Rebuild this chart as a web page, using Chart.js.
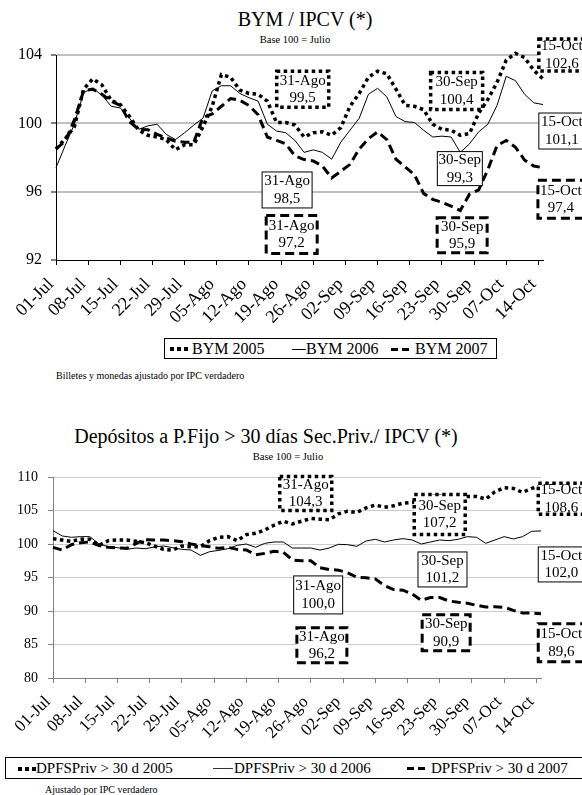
<!DOCTYPE html>
<html>
<head>
<meta charset="utf-8">
<script src="https://cdn.jsdelivr.net/npm/chart.js@4.4.1/dist/chart.umd.min.js"></script>
<style>
  html, body { margin: 0; padding: 0; background: #fff; }
  body { width: 582px; height: 795px; position: relative; overflow: hidden;
         font-family: "Liberation Serif", "Times New Roman", serif; color: #000; }
  .txt { position: absolute; white-space: nowrap; line-height: 1; }
  .mid { transform: translateX(-50%); }
  .cv { position: absolute; left: 0; }
  .legend { position: absolute; border: 1px solid #000; box-sizing: border-box; background: #fff; }
  .legend span { position: absolute; white-space: nowrap; line-height: 1; }
  .s05 { height: 4px; background: repeating-linear-gradient(90deg, #000 0 4px, transparent 4px 7px); }
  .s06 { height: 1px; background: #000; }
  .s07 { height: 3px; background: repeating-linear-gradient(90deg, #000 0 7px, transparent 7px 11px); }
</style>
</head>
<body>

<div class="txt mid" style="left:305px;top:9px;font-size:20px;">BYM / IPCV (*)</div>
<div class="txt mid" style="left:295px;top:35px;font-size:10.5px;">Base 100 = Julio</div>
<canvas id="bymChart" class="cv" style="top:0;" width="582" height="335"></canvas>
<div class="legend" style="left:164px;top:338px;width:333px;height:21px;">
  <span class="s05" style="left:5px;top:8px;width:21px;"></span>
  <span style="left:27px;top:2px;font-size:16px;">BYM 2005</span>
  <span class="s06" style="left:127px;top:10px;width:14px;"></span>
  <span style="left:141px;top:2px;font-size:16px;">BYM 2006</span>
  <span class="s07" style="left:226px;top:9px;width:18px;"></span>
  <span style="left:250px;top:2px;font-size:16px;">BYM 2007</span>
</div>
<div class="txt" style="left:56px;top:371px;font-size:10px;">Billetes y monedas ajustado por IPC verdadero</div>

<div class="txt mid" style="left:266px;top:426px;font-size:20px;">Depósitos a P.Fijo &gt; 30 días Sec.Priv./ IPCV (*)</div>
<div class="txt mid" style="left:288px;top:452px;font-size:10.5px;">Base 100 = Julio</div>
<canvas id="dpfChart" class="cv" style="top:400px;" width="582" height="357"></canvas>
<div class="legend" style="left:5px;top:757px;width:600px;height:22px;">
  <span class="s05" style="left:12px;top:9px;width:18px;"></span>
  <span style="left:30px;top:3px;font-size:15px;">DPFSPriv &gt; 30 d 2005</span>
  <span class="s06" style="left:207px;top:10px;width:20px;background:#333;"></span>
  <span style="left:228px;top:3px;font-size:15px;">DPFSPriv &gt; 30 d 2006</span>
  <span class="s07" style="left:401px;top:9px;width:20px;"></span>
  <span style="left:425px;top:3px;font-size:15px;">DPFSPriv &gt; 30 d 2007</span>
</div>
<div class="txt" style="left:45px;top:785px;font-size:10px;">Ajustado por IPC verdadero</div>

<script>
// days counted from 01-Jul (0) to 15-Oct (106)
const days = [0, 2, 4, 6, 8, 10, 12, 14, 16, 18, 20, 22, 24, 26, 28, 30, 32, 34, 36, 38,
  40, 42, 44, 46, 48, 50, 52, 54, 56, 58, 60, 62, 64, 66, 68, 70, 72, 74, 76, 78,
  80, 82, 84, 86, 88, 90, 92, 94, 96, 98, 100, 102, 104, 106];

const tickDays = [0, 7, 14, 21, 28, 35, 42, 49, 56, 63, 70, 77, 84, 91, 98, 105];
const tickLabels = ["01-Jul", "08-Jul", "15-Jul", "22-Jul", "29-Jul", "05-Ago", "12-Ago", "19-Ago",
  "26-Ago", "02-Sep", "09-Sep", "16-Sep", "23-Sep", "30-Sep", "07-Oct", "14-Oct"];

const bym2005 = [98.5, 99.1, 99.8, 102.0, 102.6, 102.25, 101.35, 101.1, 100.4, 99.6,
  99.3, 99.2, 99.05, 98.45, 98.75, 98.75, 99.8, 101.0, 102.85, 102.7,
  101.95, 101.75, 101.7, 101.3, 100.05, 100.05, 99.9, 99.2, 99.45, 99.5,
  99.3, 99.75, 101.0, 101.75, 102.7, 103.05, 102.9, 102.0, 101.05, 101.0,
  100.8, 99.95, 99.65, 99.6, 99.3, 99.4, 100.6, 101.4, 102.4, 103.7,
  104.1, 103.85, 103.1, 102.6];
const bym2006 = [97.4, 98.7, 99.95, 101.8, 102.05, 101.65, 101.0, 100.9, 100.3, 99.65,
  99.85, 99.95, 99.35, 99.05, 99.45, 99.9, 100.3, 101.9, 102.2, 102.2,
  101.75, 101.5, 101.3, 99.95, 99.55, 99.45, 99.0, 98.3, 98.45, 98.3,
  97.9, 98.9, 99.6, 100.3, 101.7, 102.05, 101.55, 100.4, 100.1, 100.05,
  99.6, 99.2, 99.25, 99.2, 98.3, 98.8, 99.5, 99.95, 101.05, 102.75,
  102.5, 101.7, 101.2, 101.1];
const bym2007 = [98.5, 98.95, 100.2, 101.9, 102.0, 101.7, 101.3, 101.05, 100.1, 99.65,
  99.63, 99.35, 99.15, 98.95, 98.9, 98.9, 100.35, 100.55, 101.0, 101.45,
  101.35, 101.05, 100.5, 99.2, 99.0, 98.8, 98.1, 97.88, 97.8, 97.5,
  96.8, 97.2, 97.6, 98.5, 99.1, 99.5, 99.05, 97.9, 97.45, 97.0,
  95.9, 95.55, 95.38, 95.15, 94.9, 95.85, 96.1, 97.3, 98.7, 99.0,
  98.6, 97.85, 97.5, 97.4];

const dpf2005 = [100.8, 100.6, 100.4, 100.7, 100.7, 99.8, 100.5, 100.6, 100.6, 100.4,
  100.2, 99.7, 99.2, 99.1, 99.7, 99.6, 99.6, 100.5, 101.0, 101.1,
  100.5, 101.4, 101.6, 102.1, 102.8, 103.4, 103.0, 103.4, 103.8, 103.7,
  103.6, 104.5, 104.9, 104.7, 105.4, 105.8, 105.5, 105.7, 106.1, 106.2,
  106.4, 107.1, 107.2, 107.0, 106.9, 107.1, 107.1, 106.7, 107.8, 108.4,
  108.3, 107.7, 108.3, 108.7];
const dpf2006 = [102.0, 101.2, 101.0, 101.1, 101.1, 100.0, 99.6, 99.45, 99.2, 99.4,
  99.3, 99.55, 99.7, 99.45, 99.2, 99.1, 98.3, 98.85, 99.05, 99.3,
  99.8, 100.0, 99.5, 100.1, 100.3, 100.3, 99.4, 99.4, 99.4, 99.1,
  99.4, 99.95, 99.9, 99.65, 100.45, 100.7, 100.3, 100.6, 100.8, 100.6,
  100.0, 100.3, 100.6, 100.5, 100.7, 101.1, 101.0, 100.1, 100.6, 101.1,
  100.75, 101.1, 101.9, 101.95];
const dpf2007 = [99.5, 99.1, 99.9, 100.2, 100.3, 99.75, 99.5, 99.4, 99.35, 100.05,
  100.65, 100.6, 100.6, 100.5, 100.35, 100.0, 99.75, 99.6, 99.35, 99.5,
  99.2, 99.1, 98.4, 98.6, 98.9, 98.8, 97.6, 97.5, 97.5, 96.45,
  96.2, 96.1, 95.7, 95.05, 94.95, 94.8, 93.8, 93.2, 93.1, 92.55,
  91.6, 92.0, 92.0, 91.5, 91.3, 91.15, 90.85, 90.6, 90.65, 90.55,
  90.1, 89.7, 89.7, 89.6];

// boxed notes: dates and values printed in the boxes
const noteDates = ["31-Ago", "30-Sep", "15-Oct"];
const bymNotes2005 = [99.5, 100.4, 102.6];
const bymNotes2006 = [98.5, 99.3, 101.1];
const bymNotes2007 = [97.2, 95.9, 97.4];
const dpfNotes2005 = [104.3, 107.2, 108.6];
const dpfNotes2006 = [100.0, 101.2, 102.0];
const dpfNotes2007 = [96.2, 90.9, 89.6];

// where each box sits (scale units) and its size in px
const bymBoxPos = [
  [{ x: 53.7, y: 102.0, w: 52, h: 36 }, { x: 87.2, y: 101.9, w: 52, h: 37 }, { x: 110.1, y: 104.0, w: 46, h: 32 }],
  [{ x: 50.3, y: 96.1, w: 50, h: 36 }, { x: 87.9, y: 97.35, w: 45, h: 34 }, { x: 110.1, y: 99.55, w: 46, h: 36 }],
  [{ x: 51.3, y: 93.5, w: 51, h: 38 }, { x: 88.4, y: 93.45, w: 50, h: 35 }, { x: 109.9, y: 95.55, w: 46, h: 38 }]
];
const dpfBoxPos = [
  [{ x: 54.9, y: 107.55, w: 52, h: 34 }, { x: 84.0, y: 104.4, w: 51, h: 40 }, { x: 110.4, y: 106.75, w: 46, h: 31 }],
  [{ x: 57.6, y: 92.4, w: 49, h: 38 }, { x: 84.6, y: 96.2, w: 49, h: 35 }, { x: 110.4, y: 96.95, w: 46, h: 35 }],
  [{ x: 58.4, y: 84.9, w: 50, h: 35 }, { x: 85.4, y: 86.75, w: 48, h: 36 }, { x: 110.4, y: 85.25, w: 46, h: 38 }]
];

const serif = "'Liberation Serif', 'Times New Roman', serif";
const lineStyles = [
  { borderWidth: 3.5, borderDash: [3.5, 3.5] },
  { borderWidth: 1, borderDash: [] },
  { borderWidth: 3, borderDash: [9, 5] }
];

const fmt = (v) => v.toFixed(1).replace(".", ",");

const boxLabels = {
  id: "boxLabels",
  afterDatasetsDraw(chart, args, opts) {
    const ctx = chart.ctx;
    const xs = chart.scales.x;
    const ys = chart.scales.y;
    ctx.save();
    opts.series.forEach((notes, s) => {
      notes.forEach((val, i) => {
        const p = opts.pos[s][i];
        const cx = xs.getPixelForValue(p.x);
        const cy = ys.getPixelForValue(p.y);
        const left = cx - p.w / 2;
        const top = cy - p.h / 2;
        ctx.fillStyle = "#fff";
        ctx.fillRect(left, top, p.w, p.h);
        ctx.strokeStyle = "#000";
        ctx.lineWidth = lineStyles[s].borderWidth;
        ctx.setLineDash(lineStyles[s].borderDash);
        ctx.strokeRect(left, top, p.w, p.h);
        ctx.setLineDash([]);
        ctx.fillStyle = "#000";
        ctx.font = "15px " + serif;
        ctx.textAlign = "center";
        ctx.textBaseline = "middle";
        ctx.fillText(noteDates[i], cx, cy - 8.5);
        ctx.fillText(fmt(val), cx, cy + 9);
      });
    });
    ctx.restore();
  }
};

function makeChart(id, series, o) {
  const canvas = document.getElementById(id);
  const ctx = canvas.getContext("2d");
  return new Chart(ctx, {
    type: "line",
    data: {
      datasets: series.map((vals, i) => ({
        data: days.map((d, k) => ({ x: d, y: vals[k] })),
        borderColor: "#000",
        borderWidth: lineStyles[i].borderWidth,
        borderDash: lineStyles[i].borderDash,
        borderCapStyle: "butt",
        borderJoinStyle: "miter",
        pointRadius: 0,
        tension: 0,
        fill: false,
        clip: 8
      }))
    },
    options: {
      responsive: false,
      animation: false,
      events: [],
      layout: { autoPadding: false, padding: { top: o.top, right: o.right, left: 0, bottom: 0 } },
      plugins: {
        legend: { display: false },
        tooltip: { enabled: false },
        boxLabels: { series: o.notes, pos: o.pos }
      },
      scales: {
        x: {
          type: "linear",
          min: 0,
          max: 106,
          afterBuildTicks: (s) => { s.ticks = tickDays.map((v) => ({ value: v })); },
          afterFit: (s) => { s.height = o.xHeight; },
          ticks: {
            autoSkip: false,
            minRotation: 45,
            maxRotation: 45,
            padding: o.xPad,
            labelOffset: -5,
            color: "#000",
            font: { family: serif, size: o.xFont },
            callback: (v, i) => tickLabels[i]
          },
          grid: { drawOnChartArea: false, drawTicks: true, tickLength: 5, color: o.axisColor },
          border: { color: o.axisColor, width: 1 }
        },
        y: {
          min: o.yMin,
          max: o.yMax,
          afterBuildTicks: (s) => { s.ticks = o.yTicks.map((v) => ({ value: v })); },
          afterFit: (s) => { s.width = o.yWidth; },
          ticks: {
            padding: o.yPad,
            color: "#000",
            font: { family: serif, size: o.yFont }
          },
          grid: {
            color: (c) => (c.tick && c.tick.value === o.yMin ? "rgba(0,0,0,0)" : o.gridColor),
            lineWidth: o.gridWidth,
            tickColor: o.axisColor,
            tickLength: 5,
            tickWidth: 1
          },
          border: { color: o.axisColor, width: 1 }
        }
      }
    },
    plugins: [boxLabels]
  });
}

makeChart("bymChart", [bym2005, bym2006, bym2007], {
  top: 55, right: 39, xHeight: 75, yWidth: 56,
  yMin: 92, yMax: 104, yTicks: [92, 96, 100, 104],
  xFont: 18, yFont: 16, xPad: 9, yPad: 9,
  axisColor: "#000", gridColor: "#c0c0c0", gridWidth: 2,
  notes: [bymNotes2005, bymNotes2006, bymNotes2007], pos: bymBoxPos
});

makeChart("dpfChart", [dpf2005, dpf2006, dpf2007], {
  top: 77, right: 41, xHeight: 79, yWidth: 53,
  yMin: 80, yMax: 110, yTicks: [80, 85, 90, 95, 100, 105, 110],
  xFont: 17, yFont: 14, xPad: 9, yPad: 10,
  axisColor: "#808080", gridColor: "#cccccc", gridWidth: 1,
  notes: [dpfNotes2005, dpfNotes2006, dpfNotes2007], pos: dpfBoxPos
});
</script>
</body>
</html>
